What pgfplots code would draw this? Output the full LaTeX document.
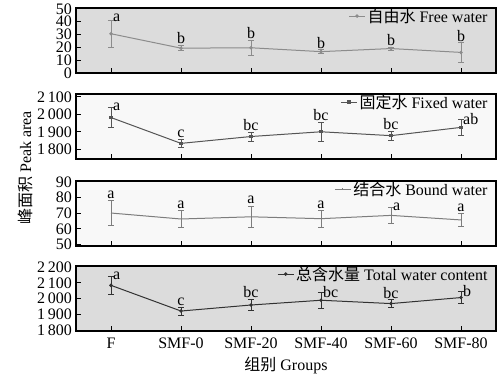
\documentclass[border=0pt]{standalone}
\usepackage{fontspec}
\setmainfont{Liberation Serif}
\newfontfamily\cjk{Noto Sans CJK SC}
\usepackage{pgfplots}
\usepackage{pgfplotstable}
\pgfplotsset{compat=1.18}

\definecolor{bgdark}{RGB}{220,220,220}
\definecolor{bglight}{RGB}{248,248,248}
\definecolor{cfree}{RGB}{140,140,140}
\definecolor{cfixed}{RGB}{85,85,85}
\definecolor{cbound}{RGB}{125,125,125}
\definecolor{ctotal}{RGB}{50,50,50}

% peak areas: group index, mean, standard deviation
\pgfplotstableread{
x y e
0 30.5 10.5
1 19.3 2.0
2 19.6 5.6
3 16.6 1.5
4 19.0 1.2
5 16.0 7.5
}\freewater
\pgfplotstableread{
x y e
0 1981 57
1 1834 21
2 1873 26
3 1900 55
4 1878 26
5 1925 45
}\fixedwater
\pgfplotstableread{
x y e
0 70.0 8.0
1 66.2 5.5
2 67.6 7.0
3 66.4 5.3
4 68.5 5.0
5 65.6 4.0
}\boundwater
\pgfplotstableread{
x y e
0 2083 58
1 1921 26
2 1959 36
3 1989 50
4 1968 26
5 2006 38
}\totalwater

\newcommand\chartfont{\fontsize{16}{16}\selectfont}
\tikzset{
  lab/.style={font=\chartfont, inner sep=1pt, anchor=south},
  labr/.style={font=\chartfont, inner sep=1pt, anchor=west, xshift=1pt},
}

\pgfplotsset{
  panel/.style={
    scale only axis, width=420pt, height=65pt,
    xmin=-0.5, xmax=5.5, xtick={0,...,5}, xticklabels={},
    tick align=inside, xtick pos=lower, ytick pos=left,
    major tick length=5pt,
    x tick style={black, line width=0.9pt},
    y tick style={black, line width=0.6pt},
    axis line style={line width=1.1pt},
    tick label style={font=\chartfont},
    yticklabel style={inner sep=0.5pt, text height=10.8pt, text depth=0pt, xshift=-3.5pt},
    legend style={draw=none, fill=none, at={(0.985,1.025)}, anchor=north east,
      font=\chartfont, inner sep=0pt},
    legend image code/.code={
      \draw[#1, mark repeat=2, mark phase=2] plot coordinates {(0pt,0pt) (8pt,0pt) (16pt,0pt)};},
    clip=false,
    /pgf/number format/assume math mode=true,
    /pgf/number format/1000 sep={\,},
  },
  series/.style={line width=1pt, color=#1, mark options={solid, fill=#1, scale=0.6},
    error bars/y dir=both, error bars/y explicit,
    error bars/error bar style={line width=0.6pt, color=#1},
    error bars/error mark options={rotate=90, mark size=3pt, line width=0.6pt, color=#1}},
}

\begin{document}
\begin{tikzpicture}
\path (0pt,0pt) rectangle (499pt,-375pt);

% free water
\begin{axis}[panel, at={(76pt,-8pt)}, anchor=north west,
  axis background/.style={fill=bgdark},
  ymin=0, ymax=50.5, ytick={0,10,...,50}]
\addplot+[mark=o, series=cfree] table[x=x, y=y, y error=e] {\freewater};
\addlegendentry{{\cjk 自由水} Free water}
\node[labr] at (axis cs:0,42.5) {a};
\node[lab] at (axis cs:1,21.5) {b};
\node[lab] at (axis cs:2,25.5) {b};
\node[lab] at (axis cs:3,18.3) {b};
\node[lab] at (axis cs:4,20.3) {b};
\node[lab] at (axis cs:5,23.8) {b};
\end{axis}

% fixed water
\begin{axis}[panel, at={(76pt,-94pt)}, anchor=north west,
  axis background/.style={fill=bglight},
  ymin=1745, ymax=2115, ytick={1800,1900,2000,2100}]
\addplot+[mark=square*, series=cfixed] table[x=x, y=y, y error=e] {\fixedwater};
\addlegendentry{{\cjk 固定水} Fixed water}
\node[labr] at (axis cs:0,2040) {a};
\node[lab] at (axis cs:1,1857) {c};
\node[lab] at (axis cs:2,1901) {bc};
\node[lab] at (axis cs:3,1957) {bc};
\node[lab] at (axis cs:4,1906) {bc};
\node[labr] at (axis cs:5,1972) {ab};
\end{axis}

% bound water
\begin{axis}[panel, at={(76pt,-181pt)}, anchor=north west,
  axis background/.style={fill=bglight},
  ymin=49, ymax=90.4, ytick={50,60,...,90}]
\addplot+[mark=|, series=cbound] table[x=x, y=y, y error=e] {\boundwater};
\addlegendentry{{\cjk 结合水} Bound water}
\node[lab] at (axis cs:0,78.3) {a};
\node[lab] at (axis cs:1,72) {a};
\node[lab] at (axis cs:2,74.9) {a};
\node[lab] at (axis cs:3,72) {a};
\node[labr] at (axis cs:4,74.2) {a};
\node[lab] at (axis cs:5,69.9) {a};
\end{axis}

% total water content
\begin{axis}[panel, at={(76pt,-266pt)}, anchor=north west,
  axis background/.style={fill=bgdark},
  ymin=1795, ymax=2205, ytick={1800,1900,...,2200},
  xticklabels={F,SMF-0,SMF-20,SMF-40,SMF-60,SMF-80},
  xticklabel style={yshift=-3pt},
  xlabel={{\cjk 组别} Groups},
  xlabel style={font=\chartfont, yshift=-2pt}]
\addplot+[mark=*, series=ctotal] table[x=x, y=y, y error=e] {\totalwater};
\addlegendentry{{\cjk 总含水量} Total water content}
\node[labr] at (axis cs:0,2145) {a};
\node[lab] at (axis cs:1,1947) {c};
\node[lab] at (axis cs:2,1995) {bc};
\node[labr] at (axis cs:3,2042) {bc};
\node[lab] at (axis cs:4,1994) {bc};
\node[labr] at (axis cs:5,2047) {b};
\end{axis}

\node[rotate=90, font=\chartfont] at (25pt,-168pt) {{\cjk 峰面积} Peak area};
\end{tikzpicture}
\end{document}
